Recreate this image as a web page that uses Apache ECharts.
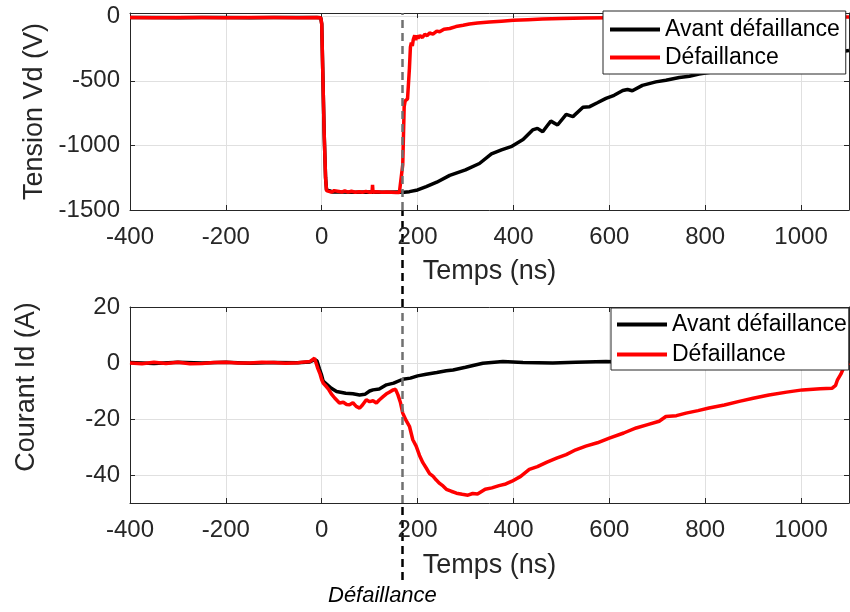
<!DOCTYPE html>
<html><head><meta charset="utf-8">
<script src="https://cdn.jsdelivr.net/npm/echarts@6/dist/echarts.min.js"></script>
<style>html,body{margin:0;padding:0;background:#fff}#chart{width:850px;height:612px}</style>
</head><body><div id="chart"></div>
<script>
const seriesNames = ['Avant défaillance', 'Défaillance'];
const xTitle = 'Temps (ns)';
const vdTitle = 'Tension Vd (V)';
const idTitle = 'Courant Id (A)';
const failureLabel = 'Défaillance';
const failureTime = 168;

// Tick labels
const xTickValues = [-400, -200, 0, 200, 400, 600, 800, 1000];
const vdTickValues = [-1500, -1000, -500, 0];
const idTickValues = [-40, -20, 0, 20];

// Tension Vd - avant défaillance
const vdBeforeT = [-400,-350,-300,-250,-200,-150,-100,-50,-10,-2,0,2,5,8,10,14,17,22,40,70,100,130,160,172,183,200,218,240,267,300,329,354,375,395,420,440,450,461,470,478,492,510,524,545,559,575,593,610,628,638,648,669,697,718,746,767,787,850,950,1050,1100];
const vdBeforeV = [-10,-9,-11,-10,-9,-11,-10,-9,-10,-12,-60,-400,-900,-1250,-1345,-1330,-1352,-1360,-1361,-1362,-1360,-1362,-1361,-1362,-1358,-1345,-1319,-1285,-1232,-1190,-1140,-1065,-1035,-1010,-955,-880,-868,-894,-850,-812,-842,-760,-777,-705,-700,-670,-636,-612,-575,-567,-577,-535,-508,-495,-475,-464,-448,-410,-350,-290,-265];

// Tension Vd - défaillance
const vdFaultT = [-400,-350,-300,-250,-200,-150,-100,-50,-10,-2,0,2,5,8,10,14,20,26,30,36,42,48,55,62,70,78,85,92,100,105,106,107,115,125,135,145,155,162,166,169,172,174,176,179,181,183,185,187,189,191,194,196,198,201,205,210,215,220,225,232,240,246,255,267,280,295,308,325,350,375,400,430,460,500,550,600,650,700,800,900,1000,1100];
const vdFaultV = [-10,-11,-9,-10,-11,-9,-10,-11,-10,-12,-60,-400,-900,-1250,-1350,-1358,-1362,-1350,-1360,-1356,-1362,-1352,-1362,-1355,-1362,-1358,-1362,-1356,-1362,-1362,-1306,-1362,-1358,-1362,-1360,-1362,-1364,-1365,-1365,-1150,-700,-655,-649,-640,-630,-400,-240,-205,-230,-180,-147,-185,-150,-170,-150,-165,-140,-150,-130,-138,-115,-120,-100,-95,-80,-70,-60,-52,-45,-38,-32,-27,-22,-18,-14,-11,-9,-8,-7,-6,-6,-5];

// Courant Id - avant défaillance
const idBeforeT = [-400,-350,-300,-250,-200,-150,-100,-50,-25,-15,-10,-5,0,3,10,20,31,50,65,79,90,100,107,120,135,150,169,185,200,218,240,260,274,300,336,378,420,482,530,593,650,750,850,950,1050,1100];
const idBeforeI = [0.2,-0.2,0.3,0,0.3,-0.1,0.2,0.1,0.4,1.2,0.8,-2,-4.5,-6.5,-7.5,-9,-10.2,-10.8,-11,-11.4,-11.2,-10,-9.6,-9.3,-7.8,-7.2,-5.8,-5.4,-4.6,-4,-3.4,-2.8,-2.5,-1.5,-0.1,0.5,0.2,0,0.3,0.5,0.2,0.3,0.1,0.3,0.2,0.2];

// Courant Id - défaillance
const idFaultT = [-400,-375,-350,-325,-300,-275,-250,-225,-200,-175,-150,-125,-100,-75,-50,-35,-25,-15,-11,-8,-4,0,3,6,10,14,20,27,31,37,45,52,58,65,72,79,85,93,100,107,114,120,128,135,140,149,154,159,164,169,176,183,190,197,204,211,218,225,232,239,246,253,260,270,281,293,305,315,325,341,355,370,384,397,415,433,450,470,490,510,530,551,575,600,630,656,680,704,718,740,760,785,808,840,871,900,933,970,1003,1040,1065,1072,1076,1083,1090,1100];
const idFaultI = [0,-0.3,0.3,-0.2,0.3,-0.3,-0.2,0.2,0.3,0,0,0.3,0.2,-0.1,0.1,0.4,0.5,1.7,1.2,-2,-3.7,-6,-7.2,-7.8,-8.5,-9.3,-11,-12.5,-13,-14.3,-14,-14.8,-14.9,-14.2,-15.5,-16.1,-15,-13.1,-13.8,-13.5,-14.3,-13.2,-12,-11,-10.5,-9.6,-9.4,-11.4,-14,-17.9,-20.5,-22.6,-27.4,-29.7,-33,-35.6,-37.5,-39.5,-40.4,-41.8,-43,-43.9,-45.1,-45.8,-46.5,-46.9,-47.2,-46.6,-46.8,-45.1,-44.6,-43.8,-43.2,-42.2,-40.5,-38,-37,-35.4,-34,-32.7,-31,-29.7,-28.5,-26.8,-25,-23.2,-22,-20.8,-19.1,-18.8,-17.9,-17,-16.1,-15,-13.7,-12.6,-11.4,-10.4,-9.6,-9.2,-9.0,-8,-6,-4,-1.3,0];

function pairs(t, v) { return t.map((x, i) => [x, v[i]]); }

const FONT = '"Liberation Sans", Arial, sans-serif';
const AX = '#262626';
const GRIDC = '#e0e0e0';
const plain = v => String(v);

function mainX(gi, gap) {
  return {
    type: 'value', gridIndex: gi, position: 'bottom', min: -400, max: 1100,
    name: xTitle, nameLocation: 'middle', nameGap: gap,
    nameTextStyle: { fontSize: 27, color: AX, fontFamily: FONT },
    axisLine: { show: true, onZero: false, lineStyle: { color: AX, width: 1 } },
    axisTick: { show: true, inside: true, length: 5, lineStyle: { color: AX }, customValues: xTickValues },
    axisLabel: { fontSize: 24, color: AX, margin: 15, fontFamily: FONT, formatter: plain, customValues: xTickValues },
    splitLine: { show: true, lineStyle: { color: GRIDC, width: 1 } },
    zlevel: 1
  };
}
function boxX(gi) {
  return {
    type: 'value', gridIndex: gi, position: 'top', min: -400, max: 1100,
    axisLine: { show: true, onZero: false, lineStyle: { color: AX, width: 1 } },
    axisTick: { show: true, inside: true, length: 5, lineStyle: { color: AX }, customValues: xTickValues },
    axisLabel: { show: false, customValues: xTickValues }, splitLine: { show: false }, zlevel: 1
  };
}
function mainY(gi, min, max, ticks, name, gap, pad) {
  return {
    type: 'value', gridIndex: gi, position: 'left', min: min, max: max,
    name: name, nameLocation: 'middle', nameGap: gap,
    nameTextStyle: { fontSize: 27, color: AX, fontFamily: FONT, padding: pad },
    axisLine: { show: true, onZero: false, lineStyle: { color: AX, width: 1 } },
    axisTick: { show: true, inside: true, length: 5, lineStyle: { color: AX }, customValues: ticks },
    axisLabel: { fontSize: 24, color: AX, margin: 10, fontFamily: FONT, formatter: plain, customValues: ticks },
    splitLine: { show: true, lineStyle: { color: GRIDC, width: 1 } },
    zlevel: 1
  };
}
function boxY(gi, min, max, ticks) {
  return {
    type: 'value', gridIndex: gi, position: 'right', min: min, max: max,
    axisLine: { show: true, onZero: false, lineStyle: { color: AX, width: 1 } },
    axisTick: { show: true, inside: true, length: 5, lineStyle: { color: AX }, customValues: ticks },
    axisLabel: { show: false, customValues: ticks }, splitLine: { show: false }, zlevel: 1
  };
}
function legendAt(left, top, gap, padding) {
  return {
    orient: 'vertical', left: left, top: top, itemWidth: 50, itemHeight: 4, itemGap: gap,
    padding: padding, borderColor: AX, borderWidth: 1, backgroundColor: '#fff',
    textStyle: { fontSize: 23, color: '#000', fontFamily: FONT },
    data: [{ name: seriesNames[0], icon: 'rect' }, { name: seriesNames[1], icon: 'rect' }],
    zlevel: 1, z: 10, selectedMode: false
  };
}
function grayMark() {
  return {
    symbol: ['none', 'none'], silent: true, label: { show: false }, zlevel: 1, z: 8,
    lineStyle: { color: '#707070', width: 2.5, type: [8, 5] },
    data: [{ xAxis: failureTime }]
  };
}

const option = {
  animation: false,
  backgroundColor: '#fff',
  title: {
    text: failureLabel, left: 328, top: 585, padding: 0,
    textStyle: { fontSize: 22, fontStyle: 'italic', fontWeight: 'normal', color: '#000', fontFamily: FONT }
  },
  grid: [
    { left: 130, right: 1, top: 13, bottom: 402, show: true, backgroundColor: '#fff', borderWidth: 0, zlevel: 1 },
    { left: 130, right: 1, top: 307, bottom: 109, show: true, backgroundColor: '#fff', borderWidth: 0, zlevel: 1 },
    { left: 130, right: 1, top: 12, bottom: 32, zlevel: 0 }
  ],
  legend: [ legendAt(603, 11, 5, [7, 6, 5, 7]), legendAt(611, 308, 7, [5, 2, 4, 6]) ],
  xAxis: [
    mainX(0, 48), boxX(0), mainX(1, 49), boxX(1),
    { type: 'value', gridIndex: 2, min: -400, max: 1100, show: false }
  ],
  yAxis: [
    mainY(0, -1500, 25, vdTickValues, vdTitle, 73, [0, 0, 0, 0]), boxY(0, -1500, 25, vdTickValues),
    mainY(1, -50, 20, idTickValues, idTitle, 90, [0, 0, 0, 36]), boxY(1, -50, 20, idTickValues),
    { type: 'value', gridIndex: 2, min: 0, max: 1, show: false }
  ],
  series: [
    { name: seriesNames[0], type: 'line', xAxisIndex: 0, yAxisIndex: 0, data: pairs(vdBeforeT, vdBeforeV),
      showSymbol: false, symbol: 'none', color: '#000', lineStyle: { width: 3.5, color: '#000' }, zlevel: 1 },
    { name: seriesNames[1], type: 'line', xAxisIndex: 0, yAxisIndex: 0, data: pairs(vdFaultT, vdFaultV),
      showSymbol: false, symbol: 'none', color: '#ff0000', lineStyle: { width: 3.5, color: '#ff0000' }, zlevel: 1,
      markLine: grayMark() },
    { name: seriesNames[0], type: 'line', xAxisIndex: 2, yAxisIndex: 2, data: pairs(idBeforeT, idBeforeI),
      showSymbol: false, symbol: 'none', color: '#000', lineStyle: { width: 3.5, color: '#000' }, zlevel: 1 },
    { name: seriesNames[1], type: 'line', xAxisIndex: 2, yAxisIndex: 2, data: pairs(idFaultT, idFaultI),
      showSymbol: false, symbol: 'none', color: '#ff0000', lineStyle: { width: 3.5, color: '#ff0000' }, zlevel: 1,
      markLine: grayMark() },
    { type: 'line', xAxisIndex: 4, yAxisIndex: 4, data: [], zlevel: 0,
      markLine: { symbol: ['none', 'none'], silent: true, label: { show: false }, zlevel: 0,
        lineStyle: { color: '#000', width: 2.5, type: [8, 5] }, data: [{ xAxis: failureTime }] } }
  ]
};
const chart = echarts.init(document.getElementById('chart'), null, { renderer: 'canvas' });
chart.setOption(option);
</script></body></html>
